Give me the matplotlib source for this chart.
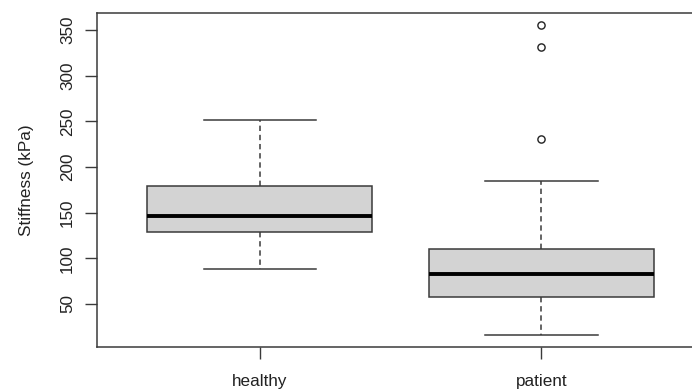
import matplotlib
matplotlib.use("Agg")
import matplotlib.pyplot as plt

plt.rcParams['font.family'] = ['Liberation Sans', 'DejaVu Sans']

# Five-number summaries per group (kPa)
groups = ["healthy", "patient"]
whisker_low = [88.6, 16.1]
q1 = [129.0, 57.7]
median = [146.3, 82.5]
q3 = [179.0, 109.8]
whisker_high = [251.3, 184.9]
outliers = [[], [230.9, 330.8, 355.3]]

yticks = [50, 100, 150, 200, 250, 300, 350]

stats = []
for i, g in enumerate(groups):
    stats.append(dict(label=g, whislo=whisker_low[i], q1=q1[i], med=median[i],
                      q3=q3[i], whishi=whisker_high[i], fliers=outliers[i]))

fig = plt.figure(figsize=(6.92, 3.90), dpi=100)
ax = fig.add_axes([0.1397, 0.1095, 0.8783, 0.858])

edge = "#3a3a3a"
ax.bxp(stats, positions=[1, 2], widths=0.8, patch_artist=True,
       boxprops=dict(facecolor="#d3d3d3", edgecolor=edge, linewidth=1.1),
       medianprops=dict(color="black", linewidth=2.8, solid_capstyle="butt"),
       whiskerprops=dict(color=edge, linewidth=1.1, linestyle=(0, (3.5, 2.5))),
       capprops=dict(color=edge, linewidth=1.1),
       capwidths=0.4,
       flierprops=dict(marker="o", markerfacecolor="none", markeredgecolor="#222222",
                       markersize=5.2, markeredgewidth=1.0))

# R-style axis limits: 4% padding around the data range
lo = min(whisker_low + [v for o in outliers for v in o])
hi = max(whisker_high + [v for o in outliers for v in o])
pad = 0.04 * (hi - lo)
ax.set_ylim(lo - pad, hi + pad)
ax.set_xlim(0.42, 2.58)

ax.set_yticks(yticks)
ax.set_yticklabels([str(t) for t in yticks], rotation=90, va="center")
ax.set_xticks([1, 2])
ax.set_xticklabels(groups)
ax.tick_params(axis="both", labelsize=12.3, length=8.5, width=1.0, color=edge,
               labelcolor="#222222")
ax.tick_params(axis="y", pad=7)
ax.tick_params(axis="x", pad=11)
ax.set_ylabel("Stiffness (kPa)", fontsize=12.3, color="#222222", labelpad=19)

for s in ax.spines.values():
    s.set_color(edge)
    s.set_linewidth(1.1)

fig.savefig("out.png", dpi=100)
